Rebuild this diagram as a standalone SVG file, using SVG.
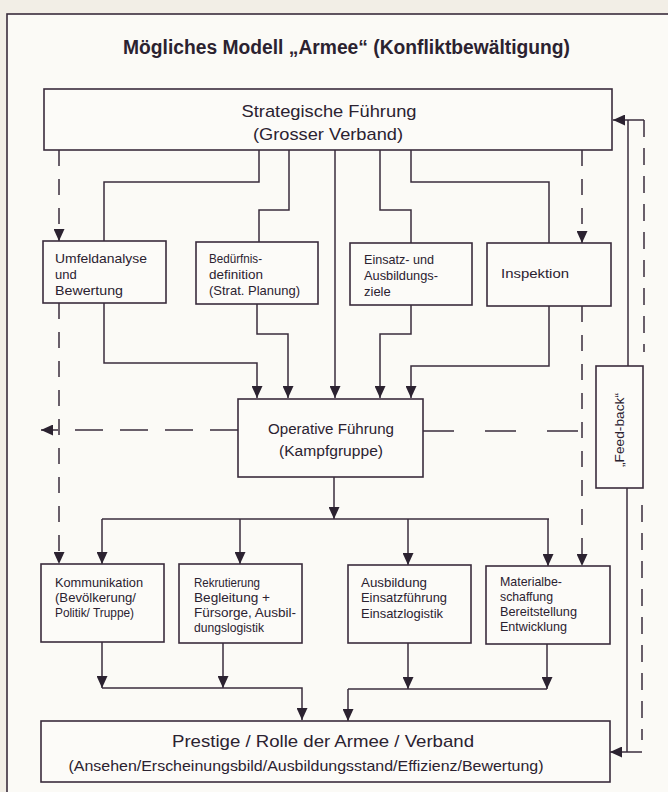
<svg xmlns="http://www.w3.org/2000/svg" width="668" height="792" viewBox="0 0 668 792">
<style>
.bg{fill:#f2eee6}
.frame{fill:#fbfaf6;stroke:#3a2c3c;stroke-width:1.6}
.box{fill:#fcfbf8;stroke:#3a2c3c;stroke-width:1.6}
.ln{fill:none;stroke:#3a2c3c;stroke-width:1.5}
.dv{stroke-dasharray:16 13}
.dh{stroke-dasharray:28 17}
.dr{stroke-dasharray:31 31}
.df{stroke-dasharray:17 11}
text{font-family:"Liberation Sans","DejaVu Sans",Arial,sans-serif;fill:#2b2230}
.t{font-size:13px}
.m{font-size:15.5px;text-anchor:middle}
.title{font-size:20px;font-weight:bold}
</style>
<defs>
<marker id="ah" viewBox="0 0 12 11" refX="12" refY="5.5" markerWidth="12" markerHeight="11" markerUnits="userSpaceOnUse" orient="auto">
<path d="M0,0 L12,5.5 L0,11 Z" fill="#2b2230"/>
</marker>
</defs>
<rect class="bg" x="0" y="0" width="668" height="792"/>
<rect class="frame" x="7" y="14" width="700" height="800"/>
<g id="title">
<text class="title" x="123" y="54" textLength="447" lengthAdjust="spacingAndGlyphs">Mögliches Modell „Armee“ (Konfliktbewältigung)</text>
</g>
<g id="connectors">
<path class="ln" d="M259,150 V182 H104 V241"/>
<path class="ln" d="M289,150 V210 H259 V242"/>
<path class="ln" d="M335,150 V398" marker-end="url(#ah)"/>
<path class="ln" d="M380,150 V210 H411 V243"/>
<path class="ln" d="M411,150 V182 H549 V243"/>
<path class="ln dv" d="M59,150 V241" marker-end="url(#ah)"/>
<path class="ln dv" d="M582,150 V243" marker-end="url(#ah)"/>
<path class="ln" d="M104,303 V363 H257 V398" marker-end="url(#ah)"/>
<path class="ln" d="M257,304 V334 H288 V398" marker-end="url(#ah)"/>
<path class="ln" d="M411,305 V334 H380 V398" marker-end="url(#ah)"/>
<path class="ln" d="M549,306 V366 H411 V398" marker-end="url(#ah)"/>
<path class="ln dh" d="M238,430 H41" marker-end="url(#ah)"/>
<path class="ln dr" d="M423,431 H582"/>
<path class="ln dv" d="M59,303 V564" marker-end="url(#ah)"/>
<path class="ln dv" d="M582,306 V566" marker-end="url(#ah)"/>
<path class="ln" d="M334,477 V519" marker-end="url(#ah)"/>
<path class="ln" d="M102,519 H549"/>
<path class="ln" d="M102,519 V564" marker-end="url(#ah)"/>
<path class="ln" d="M240,519 V564" marker-end="url(#ah)"/>
<path class="ln" d="M408,519 V565" marker-end="url(#ah)"/>
<path class="ln" d="M548,519 V566" marker-end="url(#ah)"/>
<path class="ln" d="M102,642 V688" marker-end="url(#ah)"/>
<path class="ln" d="M223,643 V688" marker-end="url(#ah)"/>
<path class="ln" d="M102,688 H302 V720" marker-end="url(#ah)"/>
<path class="ln" d="M408,643 V689" marker-end="url(#ah)"/>
<path class="ln" d="M547,644 V689" marker-end="url(#ah)"/>
<path class="ln" d="M348,689 H547"/>
<path class="ln" d="M348,689 V721" marker-end="url(#ah)"/>
<path class="ln" d="M644,120 H613" marker-end="url(#ah)"/>
<path class="ln" d="M628,120 V366"/>
<path class="ln df" d="M644,120 V352"/>
<path class="ln" d="M627,488 V752"/>
<path class="ln df" d="M642,505 V740"/>
<path class="ln" d="M642,752 H610" marker-end="url(#ah)"/>
</g>
<g id="strategische">
<rect class="box" x="44" y="89" width="568" height="61"/>
<text class="m" x="329" y="117" style="font-size:17px" textLength="175" lengthAdjust="spacingAndGlyphs">Strategische Führung</text>
<text class="m" x="328" y="140" style="font-size:17px" textLength="150" lengthAdjust="spacingAndGlyphs">(Grosser Verband)</text>
</g>
<g id="umfeld">
<rect class="box" x="43" y="241" width="123" height="62"/>
<text class="t" x="55" y="263" textLength="92" lengthAdjust="spacingAndGlyphs">Umfeldanalyse</text>
<text class="t" x="55" y="279">und</text>
<text class="t" x="55" y="295" textLength="68" lengthAdjust="spacingAndGlyphs">Bewertung</text>
</g>
<g id="beduerfnis">
<rect class="box" x="196" y="242" width="122" height="62"/>
<text class="t" x="209" y="263" textLength="53" lengthAdjust="spacingAndGlyphs">Bedürfnis-</text>
<text class="t" x="209" y="279" textLength="54" lengthAdjust="spacingAndGlyphs">definition</text>
<text class="t" x="209" y="295" textLength="91" lengthAdjust="spacingAndGlyphs">(Strat. Planung)</text>
</g>
<g id="einsatzziele">
<rect class="box" x="350" y="243" width="122" height="62"/>
<text class="t" x="364" y="264" textLength="70" lengthAdjust="spacingAndGlyphs">Einsatz- und</text>
<text class="t" x="364" y="280" textLength="74" lengthAdjust="spacingAndGlyphs">Ausbildungs-</text>
<text class="t" x="364" y="296">ziele</text>
</g>
<g id="inspektion">
<rect class="box" x="487" y="243" width="124" height="63"/>
<text class="t" x="501" y="278" textLength="68" lengthAdjust="spacingAndGlyphs">Inspektion</text>
</g>
<g id="operative">
<rect class="box" x="238" y="399" width="185" height="78"/>
<text class="m" x="331" y="434" textLength="126" lengthAdjust="spacingAndGlyphs">Operative Führung</text>
<text class="m" x="331" y="456" textLength="104" lengthAdjust="spacingAndGlyphs">(Kampfgruppe)</text>
</g>
<g id="feedback">
<rect class="box" x="596" y="366" width="47" height="122"/>
<text x="0" y="0" transform="translate(624,430) rotate(-90)" style="font-size:13px;text-anchor:middle" textLength="74" lengthAdjust="spacingAndGlyphs">„Feed-back“</text>
</g>
<g id="kommunikation">
<rect class="box" x="41" y="564" width="123" height="78"/>
<text class="t" x="55" y="587" textLength="88" lengthAdjust="spacingAndGlyphs">Kommunikation</text>
<text class="t" x="55" y="602" textLength="81" lengthAdjust="spacingAndGlyphs">(Bevölkerung/</text>
<text class="t" x="55" y="617" textLength="79" lengthAdjust="spacingAndGlyphs">Politik/ Truppe)</text>
</g>
<g id="rekrutierung">
<rect class="box" x="179" y="564" width="123" height="79"/>
<text class="t" x="194" y="587" textLength="66" lengthAdjust="spacingAndGlyphs">Rekrutierung</text>
<text class="t" x="194" y="602" textLength="76" lengthAdjust="spacingAndGlyphs">Begleitung +</text>
<text class="t" x="194" y="617" textLength="102" lengthAdjust="spacingAndGlyphs">Fürsorge, Ausbil-</text>
<text class="t" x="194" y="632" textLength="70" lengthAdjust="spacingAndGlyphs">dungslogistik</text>
</g>
<g id="ausbildung">
<rect class="box" x="348" y="565" width="123" height="78"/>
<text class="t" x="361" y="587" textLength="66" lengthAdjust="spacingAndGlyphs">Ausbildung</text>
<text class="t" x="361" y="602" textLength="86" lengthAdjust="spacingAndGlyphs">Einsatzführung</text>
<text class="t" x="361" y="618" textLength="82" lengthAdjust="spacingAndGlyphs">Einsatzlogistik</text>
</g>
<g id="material">
<rect class="box" x="486" y="566" width="124" height="78"/>
<text class="t" x="500" y="586" textLength="62" lengthAdjust="spacingAndGlyphs">Materialbe-</text>
<text class="t" x="500" y="601" textLength="53" lengthAdjust="spacingAndGlyphs">schaffung</text>
<text class="t" x="500" y="616" textLength="77" lengthAdjust="spacingAndGlyphs">Bereitstellung</text>
<text class="t" x="500" y="631" textLength="67" lengthAdjust="spacingAndGlyphs">Entwicklung</text>
</g>
<g id="prestige">
<rect class="box" x="41" y="721" width="569" height="61"/>
<text class="m" x="323" y="747" style="font-size:17px" textLength="302" lengthAdjust="spacingAndGlyphs">Prestige / Rolle der Armee / Verband</text>
<text class="m" x="306" y="771" textLength="475" lengthAdjust="spacingAndGlyphs">(Ansehen/Erscheinungsbild/Ausbildungsstand/Effizienz/Bewertung)</text>
</g>
</svg>
